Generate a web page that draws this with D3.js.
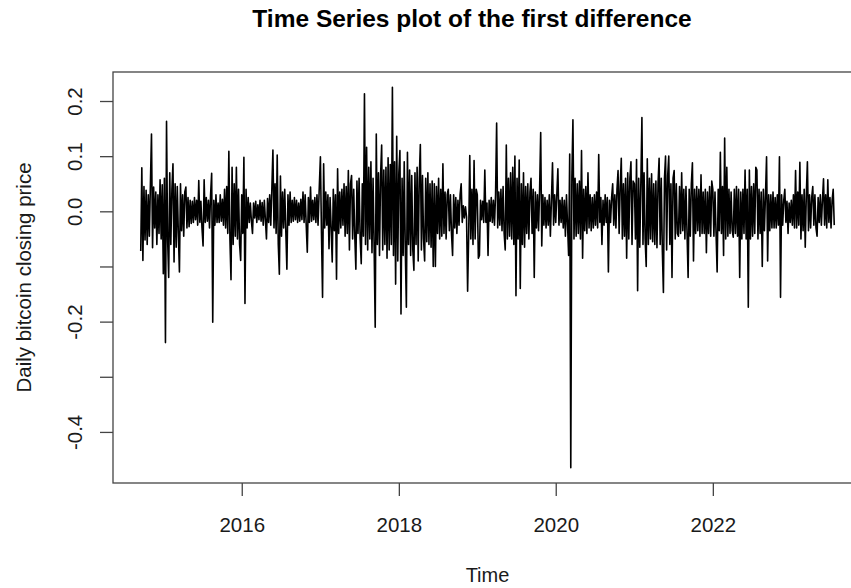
<!DOCTYPE html>
<html>
<head>
<meta charset="utf-8">
<script src="https://cdn.jsdelivr.net/npm/d3@7"></script>
<style>
  body { margin: 0; background: #ffffff; }
  svg { display: block; }
  text { font-family: "Liberation Sans", Arial, Helvetica, sans-serif; }
</style>
</head>
<body>
<svg id="chart" width="851" height="588"></svg>
<script>
// First difference of the log daily bitcoin close, one value every 5 days,
// kept as one array per calendar year.
const stepDays = 5;

const ret2014 = [-0.072, 0.079, -0.089, 0.045, -0.052, 0.038, -0.06, 0.03, -0.045, 0.05,
  0.140, -0.066, 0.044, -0.03, 0.035, -0.06, 0.03, -0.04, 0.057, -0.05, 0.048];

const ret2015 = [-0.113, 0.06, -0.238, 0.163, -0.05, -0.12, 0.07, -0.06, 0.04, 0.086,
  -0.092, 0.05, -0.065, 0.045, -0.04, -0.11, 0.05, -0.035, 0.03, -0.045,
  0.035, 0.044, -0.03, 0.025, -0.028, 0.02, -0.022, 0.018, -0.02, 0.025,
  -0.015, 0.02, -0.025, 0.056, -0.02, 0.018, -0.03, -0.063, 0.057, -0.02,
  0.025, -0.018, 0.02, -0.03, 0.03, 0.069, -0.201, 0.02, -0.025, 0.03,
  -0.02, 0.015, -0.02, 0.03, -0.018, 0.022, -0.025, 0.04, -0.03, 0.045,
  -0.04, 0.109, -0.05, -0.124, 0.08, -0.06, 0.05, -0.045, 0.08, -0.05,
  0.04, -0.06, -0.089];

const ret2016 = [0.03, -0.04, 0.098, -0.167, 0.04, -0.03, 0.025, -0.02, 0.015, -0.018,
  -0.04, 0.015, -0.012, 0.018, -0.02, 0.012, -0.015, 0.02, -0.018, 0.016,
  -0.025, 0.02, -0.015, -0.05, 0.023, -0.02, 0.03, -0.025, 0.04, 0.111,
  -0.03, 0.05, -0.04, 0.102, -0.06, -0.114, 0.064, -0.045, 0.035, -0.03,
  0.04, -0.035, -0.105, 0.03, -0.025, 0.035, -0.02, 0.02, -0.018, 0.025,
  -0.015, 0.02, -0.02, 0.015, -0.018, 0.022, -0.015, 0.035, -0.02, 0.03,
  -0.025, -0.074, 0.025, -0.02, 0.044, -0.018, 0.02, -0.015, 0.025, -0.02,
  0.03, -0.025, 0.035];

const ret2017 = [0.099, -0.04, -0.156, 0.086, -0.03, 0.035, -0.025, 0.03, -0.068, 0.025,
  -0.03, -0.092, 0.04, -0.035, 0.03, -0.123, 0.077, -0.04, 0.035, -0.03,
  0.04, -0.025, 0.05, -0.045, 0.045, -0.04, 0.074, -0.07, 0.05, 0.065,
  -0.05, 0.04, -0.045, -0.105, 0.055, -0.04, 0.06, -0.05, -0.095, 0.05,
  -0.045, 0.213, -0.06, 0.116, -0.07, 0.08, -0.05, 0.09, -0.075, 0.06,
  -0.065, -0.21, 0.14, -0.06, 0.07, -0.08, 0.065, 0.12, -0.07, 0.075,
  -0.06, 0.08, -0.085, 0.097, -0.07, 0.085, -0.06, 0.225, -0.08, 0.09,
  -0.132, 0.136, -0.09];

const ret2018 = [0.07, 0.11, -0.186, 0.06, -0.08, 0.09, -0.07, -0.174, 0.107, -0.06,
  0.075, -0.08, 0.065, -0.07, -0.107, 0.07, -0.06, 0.08, -0.09, 0.06,
  0.121, -0.07, 0.065, -0.05, -0.09, 0.06, -0.055, 0.07, -0.06, 0.05,
  -0.065, 0.055, -0.10, 0.05, -0.10, 0.045, -0.04, 0.06, -0.05, 0.04,
  -0.045, 0.086, -0.04, 0.035, -0.05, 0.03, 0.04, -0.035, 0.03, -0.04,
  -0.08, 0.03, -0.03, 0.025, -0.04, 0.02, -0.025, 0.03, 0.05, -0.02,
  0.01, -0.012, 0.008, -0.01, -0.145, -0.04, 0.101, -0.05, 0.04, -0.06,
  0.092, -0.05, 0.04];

const ret2019 = [0.03, -0.085, -0.08, 0.02, -0.015, 0.018, -0.02, 0.075, -0.02, 0.015,
  -0.08, 0.02, -0.018, 0.025, -0.02, 0.02, -0.025, 0.03, 0.16, -0.03,
  0.035, -0.025, 0.04, -0.035, 0.045, -0.04, -0.07, 0.12, -0.05, 0.06,
  -0.045, 0.07, -0.05, 0.08, -0.06, 0.10, -0.153, 0.06, -0.05, 0.093,
  -0.14, 0.05, -0.06, 0.07, -0.065, 0.045, -0.04, 0.05, -0.05, 0.035,
  0.06, -0.04, 0.04, -0.12, 0.035, -0.03, 0.03, -0.035, 0.04, 0.143,
  -0.063, 0.03, -0.025, 0.025, -0.03, 0.02, -0.025, 0.03, -0.045, 0.02,
  0.088, -0.025, 0.03];

const ret2020 = [-0.02, 0.03, 0.077, -0.025, 0.02, -0.02, 0.025, -0.03, 0.02, -0.045,
  0.03, -0.025, -0.08, 0.104, -0.465, 0.06, 0.166, -0.05, 0.06, -0.045,
  0.05, -0.04, 0.055, -0.05, 0.11, -0.085, 0.04, -0.035, 0.045, -0.04,
  0.07, -0.03, 0.03, -0.035, 0.025, -0.03, 0.03, -0.025, 0.035, -0.03,
  0.103, -0.02, 0.025, -0.06, 0.02, -0.025, 0.03, -0.02, 0.025, -0.11,
  0.02, -0.02, 0.025, 0.05, -0.025, 0.03, -0.03, 0.04, 0.074, -0.04,
  0.045, 0.096, -0.05, 0.05, -0.045, 0.06, -0.085, 0.07, -0.05, 0.06,
  0.09, -0.06, 0.055];

const ret2021 = [0.05, -0.05, 0.094, -0.144, 0.06, -0.065, 0.05, 0.17, -0.06, 0.07,
  -0.05, -0.10, 0.095, -0.06, 0.06, -0.05, 0.068, -0.055, 0.05, -0.06,
  0.055, -0.066, 0.05, 0.096, -0.06, 0.06, -0.07, -0.147, 0.06, 0.10,
  -0.07, 0.065, 0.10, -0.06, 0.05, -0.12, 0.06, 0.074, -0.05, 0.05,
  -0.04, -0.045, 0.045, -0.04, 0.07, -0.035, 0.04, -0.05, 0.045, -0.04,
  -0.12, 0.04, -0.045, 0.05, 0.088, -0.09, 0.04, -0.04, 0.045, -0.035,
  0.04, -0.045, 0.066, -0.04, 0.035, -0.04, 0.04, -0.075, 0.035, -0.04,
  0.045, -0.045, 0.055];

const ret2022 = [0.04, -0.045, 0.035, -0.04, -0.11, 0.04, -0.035, 0.107, -0.04, 0.045,
  -0.08, 0.133, -0.05, 0.08, -0.045, 0.04, -0.04, 0.035, -0.035, -0.047,
  0.04, -0.04, 0.045, -0.045, 0.04, -0.12, 0.035, -0.05, 0.04, -0.04,
  0.075, -0.05, 0.04, -0.174, 0.075, -0.05, 0.045, -0.045, 0.05, -0.04,
  0.08, 0.075, -0.05, 0.04, -0.04, 0.035, -0.10, 0.04, -0.035, 0.03,
  0.099, -0.09, 0.03, -0.035, 0.03, -0.03, 0.035, -0.03, 0.025, -0.03,
  0.03, -0.025, 0.099, -0.156, 0.03, -0.025, 0.02, 0.04, -0.02, 0.018,
  -0.04, 0.015, -0.02];

const ret2023 = [0.02, -0.025, 0.03, -0.03, 0.074, -0.03, 0.035, -0.025, 0.089, -0.05,
  0.03, -0.035, 0.04, -0.065, 0.03, 0.09, -0.035, 0.03, -0.03, 0.025,
  0.045, -0.025, 0.03, -0.03, -0.045, 0.025, -0.02, 0.03, -0.025, 0.02,
  0.059, -0.025, 0.03, -0.03, 0.057, -0.02, 0.025, -0.03, 0.02, 0.04,
  -0.025];

// First date of each yearly block
const blockStarts = ["2014-09-18", "2015-01-01", "2016-01-01", "2017-01-01", "2018-01-01",
  "2019-01-01", "2020-01-01", "2021-01-01", "2022-01-01", "2023-01-01"];
const blockValues = [ret2014, ret2015, ret2016, ret2017, ret2018,
  ret2019, ret2020, ret2021, ret2022, ret2023];

// Axis ticks
const xTickYears = [2016, 2018, 2020, 2022];
const yTickValues = [-0.4, -0.3, -0.2, -0.1, 0.0, 0.1, 0.2];
const yLabelled = [-0.4, -0.2, 0.0, 0.1, 0.2];

const titleText = "Time Series plot of the first difference";
const xTitle = "Time";
const yTitle = "Daily bitcoin closing price";

// ---- assemble the series ----
const DAY = 86400000;
const series = [];
blockStarts.forEach((s, b) => {
  const t0 = Date.parse(s + "T00:00:00Z");
  blockValues[b].forEach((v, i) => series.push({ date: new Date(t0 + i * stepDays * DAY), value: v }));
});

// ---- plot region ----
const plot = { left: 113, top: 72, right: 862, bottom: 483 };
const svg = d3.select("#chart");

// R-style 4% padding around the data range
const xExt = d3.extent(series, d => d.date.getTime());
const xPad = (xExt[1] - xExt[0]) * 0.04;
const x = d3.scaleUtc()
  .domain([new Date(xExt[0] - xPad), new Date(xExt[1] + xPad)])
  .range([plot.left, plot.right]);

const yExt = d3.extent(series, d => d.value);
const yPad = (yExt[1] - yExt[0]) * 0.04;
const y = d3.scaleLinear()
  .domain([yExt[0] - yPad, yExt[1] + yPad])
  .range([plot.bottom, plot.top]);

const axisColor = "#444";
const textColor = "#1a1a1a";

// series line
const line = d3.line().x(d => x(d.date)).y(d => y(d.value));
svg.append("path")
  .datum(series)
  .attr("d", line)
  .attr("fill", "none")
  .attr("stroke", "#000")
  .attr("stroke-width", 1.6)
  .attr("stroke-linejoin", "round");

// frame
svg.append("rect")
  .attr("x", plot.left).attr("y", plot.top)
  .attr("width", plot.right - plot.left).attr("height", plot.bottom - plot.top)
  .attr("fill", "none").attr("stroke", axisColor).attr("stroke-width", 1.3);

// x axis
const xAxis = d3.axisBottom(x)
  .tickValues(xTickYears.map(yr => new Date(Date.UTC(yr, 0, 1))))
  .tickSize(13)
  .tickFormat(d3.utcFormat("%Y"));
const gx = svg.append("g").attr("transform", `translate(0,${plot.bottom})`).call(xAxis);
gx.select(".domain").remove();
gx.selectAll(".tick line").attr("stroke", axisColor).attr("stroke-width", 1.3);
gx.selectAll(".tick text")
  .attr("y", 48.5).attr("dy", 0)
  .attr("fill", textColor)
  .style("font-size", "20.5px")
  .style("font-family", "'Liberation Sans', Arial, sans-serif");

// y axis with rotated labels
const yAxis = d3.axisLeft(y)
  .tickValues(yTickValues)
  .tickSize(13)
  .tickFormat(d => yLabelled.some(v => Math.abs(v - d) < 1e-9) ? d.toFixed(1) : "");
const gy = svg.append("g").attr("transform", `translate(${plot.left},0)`).call(yAxis);
gy.select(".domain").remove();
gy.selectAll(".tick line").attr("stroke", axisColor).attr("stroke-width", 1.3);
gy.selectAll(".tick text")
  .attr("transform", "rotate(-90)")
  .attr("x", 0).attr("y", -31).attr("dy", 0)
  .attr("text-anchor", "middle")
  .attr("fill", textColor)
  .style("font-size", "20.5px")
  .style("font-family", "'Liberation Sans', Arial, sans-serif");

// titles
svg.append("text")
  .attr("x", 472).attr("y", 27)
  .attr("text-anchor", "middle")
  .attr("font-weight", "bold")
  .attr("font-size", 24.5)
  .attr("fill", "#000")
  .text(titleText);

svg.append("text")
  .attr("x", (plot.left + plot.right) / 2).attr("y", 581.5)
  .attr("text-anchor", "middle")
  .attr("font-size", 20)
  .attr("fill", textColor)
  .text(xTitle);

svg.append("text")
  .attr("transform", `translate(31,${(plot.top + plot.bottom) / 2}) rotate(-90)`)
  .attr("text-anchor", "middle")
  .attr("font-size", 20.5)
  .attr("fill", textColor)
  .text(yTitle);
</script>
</body>
</html>
